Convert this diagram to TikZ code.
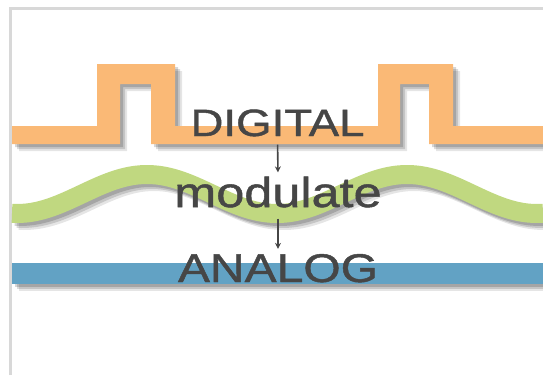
\documentclass[tikz,border=0pt]{standalone}
\usepackage{fontspec}
\usetikzlibrary{arrows.meta}
\newfontfamily\wordfont[FakeStretch=1.2,FakeBold=1.2]{Liberation Sans}
\definecolor{framegray}{RGB}{216,216,216}
\definecolor{pulseorange}{RGB}{250,185,118}
\definecolor{wavegreen}{RGB}{192,216,128}
\definecolor{analogblue}{RGB}{98,162,196}
\definecolor{wordgray}{RGB}{70,70,70}
\newcommand\pulsepath{(12,126) -- (97,126) -- (97,64) -- (175,64) -- (175,126)
  -- (378,126) -- (378,64) -- (453,64) -- (453,126) -- (543,126) -- (543,144)
  -- (429,144) -- (429,84) -- (400,84) -- (400,144) -- (151,144) -- (151,84)
  -- (120,84) -- (120,144) -- (12,144) -- cycle}
\newcommand\wavepath{plot[domain=12:543,samples=120,smooth]
  (\x,{194+19.5*cos((\x-277)/260*360)})}
\tikzset{
  wordnode/.style={font=\wordfont\fontsize{#1}{#1}\selectfont, text=wordgray,
    inner sep=0pt, anchor=base},
  flowarrow/.style={draw=wordgray, line width=1.6pt,
    -{Stealth[length=6pt,width=6pt]}},
}
\begin{document}
\begin{tikzpicture}[x=1pt,y=-1pt]
\useasboundingbox (0,0) rectangle (543,375);
\draw[framegray, line width=3pt] (10.5,375) -- (10.5,8) -- (543,8);

\foreach \d/\o in {7/0.10,5/0.14,3/0.16}
  \draw[black, opacity=\o, line width=19pt, shift={(\d,\d)}] \wavepath;
\draw[wavegreen, line width=19pt] \wavepath;

\foreach \d/\o in {7/0.10,5/0.14,3/0.16}
  \fill[black, opacity=\o, shift={(\d,\d)}] \pulsepath;
\fill[pulseorange] \pulsepath;

\foreach \d/\o in {7/0.10,5/0.14,3/0.16}
  \fill[black, opacity=\o, shift={(\d,\d)}] (12,262.5) rectangle (543,284);
\fill[analogblue] (12,262.5) rectangle (543,284);

\node[wordnode=38] (digital) at (277.5,136) {DIGITAL};
\node[wordnode=42] (modulate) at (278,207) {modulate};
\node[wordnode=40] (analog) at (278,282) {ANALOG};

\draw[flowarrow, shorten <=8pt, shorten >=4pt] (digital.south) -- (modulate.north);
\draw[flowarrow, shorten <=11pt, shorten >=5pt] (modulate.south) -- (analog.north);
\end{tikzpicture}
\end{document}
